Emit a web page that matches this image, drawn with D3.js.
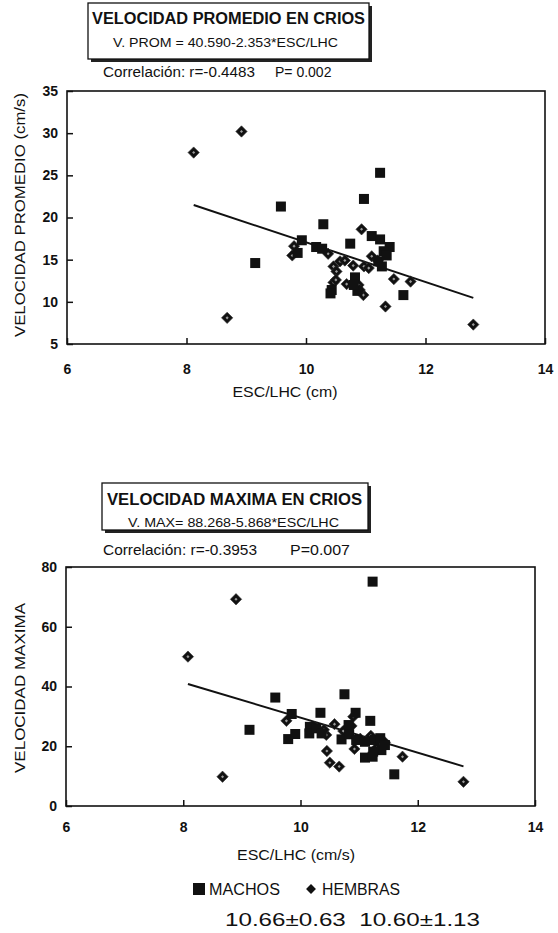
<!DOCTYPE html>
<html><head><meta charset="utf-8">
<script src="https://cdn.jsdelivr.net/npm/d3@7/dist/d3.min.js"></script>
<style>
body{margin:0;background:#fff}
svg{display:block}
text{font-family:"Liberation Sans",Arial,sans-serif;fill:#111}
</style>
</head><body>
<svg id="c" width="558" height="933"></svg>
<script>
// ---------- data ----------
const xTicks = [6, 8, 10, 12, 14];
const yTicks1 = [5, 10, 15, 20, 25, 30, 35];
const yTicks2 = [0, 20, 40, 60, 80];

// Panel 1: VELOCIDAD PROMEDIO (cm/s) vs ESC/LHC
const machos1 = [
  [9.15,14.6],[9.58,21.3],[9.93,17.3],[9.86,15.8],[10.17,16.5],[10.27,16.3],
  [10.29,19.2],[10.74,16.9],[10.97,22.2],[11.24,25.3],[11.63,10.8],[10.43,11.4],
  [10.41,11.0],[10.82,12.9],[10.86,11.3],[11.10,17.8],[11.24,17.4],[11.40,16.5],
  [11.30,16.0],[11.21,14.8],[11.27,14.2],[10.80,12.0],[11.35,15.5]
];
const hembras1 = [
  [8.12,27.7],[8.92,30.2],[8.68,8.1],[12.80,7.3],[11.33,9.45],[11.47,12.7],
  [11.75,12.4],[10.93,18.6],[10.96,10.8],[10.46,12.3],[10.68,12.1],[9.77,15.5],
  [9.80,16.6],[10.37,15.7],[10.57,14.8],[10.46,14.2],[10.51,13.6],[10.79,14.3],
  [10.97,14.2],[11.10,15.4],[11.20,14.9],[11.05,14.0],[10.65,14.9],[10.88,12.0],
  [10.50,12.6],[10.90,11.4]
];
const reg1 = {a: 40.590, b: -2.353, x0: 8.12, x1: 12.80};

// Panel 2: VELOCIDAD MAXIMA vs ESC/LHC
const machos2 = [
  [9.13,25.5],[9.57,36.3],[9.85,30.8],[9.79,22.4],[9.91,24.1],[10.34,31.2],
  [10.75,37.4],[10.94,31.2],[11.19,28.5],[11.23,75.1],[11.60,10.6],[10.16,26.5],
  [10.15,24.3],[10.27,26.0],[10.36,24.3],[10.70,22.3],[10.82,27.1],[10.83,24.0],
  [10.95,22.1],[11.10,21.5],[11.10,16.2],[11.27,22.1],[11.36,22.7],[11.38,18.7],
  [11.44,20.4],[11.24,18.2],[11.23,16.5]
];
const hembras2 = [
  [8.08,50.0],[8.90,69.2],[8.67,9.8],[12.78,8.1],[11.74,16.5],[9.76,28.5],
  [10.45,18.4],[10.50,14.5],[10.66,13.2],[10.44,23.8],[10.58,27.4],[10.90,29.9],
  [10.92,19.1],[10.24,26.5],[10.73,25.1],[11.02,22.5],[11.20,23.5],[11.44,21.3],
  [10.40,25.5],[11.30,19.5],[10.87,26.8]
];
const reg2 = {a: 88.268, b: -5.868, x0: 8.08, x1: 12.78};

const legendLabels = ["MACHOS", "HEMBRAS"];
const statsText = "10.66\u00b10.63  10.60\u00b11.13";

// ---------- drawing ----------
const svg = d3.select("#c");

function titleBox(g, box, title, formula) {
  g.append("rect").attr("x", box.x + 3).attr("y", box.y + 3)
    .attr("width", box.w).attr("height", box.h).attr("fill", "#222");
  g.append("rect").attr("x", box.x).attr("y", box.y)
    .attr("width", box.w).attr("height", box.h)
    .attr("fill", "#fff").attr("stroke", "#111").attr("stroke-width", 1.3);
  g.append("text").attr("x", title.x).attr("y", title.y)
    .attr("font-size", 16).attr("font-weight", "bold")
    .attr("textLength", title.len).attr("lengthAdjust", "spacingAndGlyphs")
    .text(title.t);
  g.append("text").attr("x", formula.x).attr("y", formula.y)
    .attr("font-size", 13)
    .attr("textLength", formula.len).attr("lengthAdjust", "spacingAndGlyphs")
    .text(formula.t);
}

function panel(cfg) {
  const g = svg.append("g");
  const x = d3.scaleLinear().domain([6, 14]).range([cfg.left, cfg.right]);
  const y = d3.scaleLinear().domain(cfg.ydom).range([cfg.bottom, cfg.top]);

  titleBox(g, cfg.box, cfg.title, cfg.formula);
  cfg.corr.forEach(c => {
    const t = g.append("text").attr("x", c.x).attr("y", c.y).attr("font-size", c.fs).text(c.t);
    if (c.len) t.attr("textLength", c.len).attr("lengthAdjust", "spacingAndGlyphs");
  });

  // frame
  g.append("rect").attr("x", cfg.left).attr("y", cfg.top)
    .attr("width", cfg.right - cfg.left).attr("height", cfg.bottom - cfg.top)
    .attr("fill", "none").attr("stroke", "#111").attr("stroke-width", 1.6);

  // axes (inward ticks)
  const xa = g.append("g").attr("transform", `translate(0,${cfg.bottom})`)
    .call(d3.axisBottom(x).tickValues(xTicks).tickSizeInner(-6).tickSizeOuter(0).tickPadding(16));
  const ya = g.append("g").attr("transform", `translate(${cfg.left},0)`)
    .call(d3.axisLeft(y).tickValues(cfg.yticks).tickSizeInner(-6).tickSizeOuter(0).tickPadding(15));
  [xa, ya].forEach(a => {
    a.select(".domain").remove();
    a.selectAll("line").attr("stroke", "#111").attr("stroke-width", 1.5);
    a.selectAll("text").attr("font-family", '"Liberation Sans",Arial,sans-serif')
      .attr("font-size", 14).attr("font-weight", "bold").attr("fill", "#111");
  });
  xa.selectAll("text").attr("dy", "0.71em").attr("y", cfg.xlabOff);
  ya.selectAll("text").attr("x", -9);

  // axis titles
  g.append("text").attr("x", cfg.xt.x).attr("y", cfg.xt.y).attr("text-anchor", "middle")
    .attr("font-size", 15).attr("textLength", cfg.xt.len).attr("lengthAdjust", "spacingAndGlyphs")
    .text(cfg.xt.t);
  g.append("text").attr("transform", `translate(${cfg.yt.x},${cfg.yt.y}) rotate(-90)`)
    .attr("text-anchor", "middle").attr("font-size", 15)
    .attr("textLength", cfg.yt.len).attr("lengthAdjust", "spacingAndGlyphs")
    .text(cfg.yt.t);

  // regression line
  g.append("line")
    .attr("x1", x(cfg.reg.x0)).attr("y1", y(cfg.reg.a + cfg.reg.b * cfg.reg.x0))
    .attr("x2", x(cfg.reg.x1)).attr("y2", y(cfg.reg.a + cfg.reg.b * cfg.reg.x1))
    .attr("stroke", "#111").attr("stroke-width", 2);

  // females: diamonds
  const dg = g.append("g");
  cfg.hembras.forEach(d => {
    const t = `translate(${x(d[0])},${y(d[1])}) rotate(45)`;
    dg.append("rect").attr("x", -4).attr("y", -4).attr("width", 8).attr("height", 8)
      .attr("transform", t).attr("fill", "#111").attr("stroke", "#333").attr("stroke-width", 0.6);
    dg.append("rect").attr("x", -1.1).attr("y", -1.1).attr("width", 2.2).attr("height", 2.2)
      .attr("transform", t).attr("fill", "#9a9a9a");
  });
  // males: squares
  g.append("g").selectAll("rect").data(cfg.machos).join("rect")
    .attr("x", d => x(d[0]) - 5).attr("y", d => y(d[1]) - 5)
    .attr("width", 10).attr("height", 10).attr("fill", "#111");
}

panel({
  left: 67, right: 545, top: 91, bottom: 344, ydom: [5, 35], yticks: yTicks1, xlabOff: 20,
  box: {x: 88, y: 3, w: 281, h: 56},
  title: {x: 92, y: 24, len: 273, t: "VELOCIDAD PROMEDIO EN CRIOS"},
  formula: {x: 113, y: 47, len: 225, t: "V. PROM = 40.590-2.353*ESC/LHC"},
  corr: [
    {x: 103, y: 77, fs: 14, len: 152, t: "Correlación: r=-0.4483"},
    {x: 275, y: 77, fs: 14, t: "P= 0.002"}
  ],
  xt: {x: 285, y: 397, len: 105, t: "ESC/LHC (cm)"},
  yt: {x: 25, y: 215, len: 244, t: "VELOCIDAD PROMEDIO (cm/s)"},
  reg: reg1, machos: machos1, hembras: hembras1
});

panel({
  left: 66, right: 535, top: 567, bottom: 806, ydom: [0, 80], yticks: yTicks2, xlabOff: 16,
  box: {x: 102, y: 483, w: 266, h: 47},
  title: {x: 107, y: 505, len: 255, t: "VELOCIDAD MAXIMA EN CRIOS"},
  formula: {x: 128, y: 527, len: 211, t: "V. MAX= 88.268-5.868*ESC/LHC"},
  corr: [
    {x: 103, y: 555, fs: 14, len: 154, t: "Correlación: r=-0.3953"},
    {x: 290, y: 555, fs: 14, len: 60, t: "P=0.007"}
  ],
  xt: {x: 296, y: 860, len: 118, t: "ESC/LHC (cm/s)"},
  yt: {x: 25, y: 688, len: 170, t: "VELOCIDAD MAXIMA"},
  reg: reg2, machos: machos2, hembras: hembras2
});

// legend
const lg = svg.append("g");
lg.append("rect").attr("x", 193).attr("y", 883).attr("width", 12).attr("height", 12).attr("fill", "#111");
lg.append("text").attr("x", 209).attr("y", 895).attr("font-size", 16)
  .attr("textLength", 71).attr("lengthAdjust", "spacingAndGlyphs").text(legendLabels[0]);
lg.append("rect").attr("x", -3.5).attr("y", -3.5).attr("width", 7).attr("height", 7)
  .attr("transform", "translate(311,889) rotate(45)").attr("fill", "#111");
lg.append("text").attr("x", 322).attr("y", 895).attr("font-size", 16)
  .attr("textLength", 78).attr("lengthAdjust", "spacingAndGlyphs").text(legendLabels[1]);
lg.append("text").attr("x", 225).attr("y", 926).attr("font-size", 18)
  .attr("font-family", '"Liberation Mono","Courier New",monospace')
  .attr("textLength", 255).attr("lengthAdjust", "spacingAndGlyphs")
  .style("white-space", "pre").attr("xml:space", "preserve").text(statsText);
</script>
</body></html>
